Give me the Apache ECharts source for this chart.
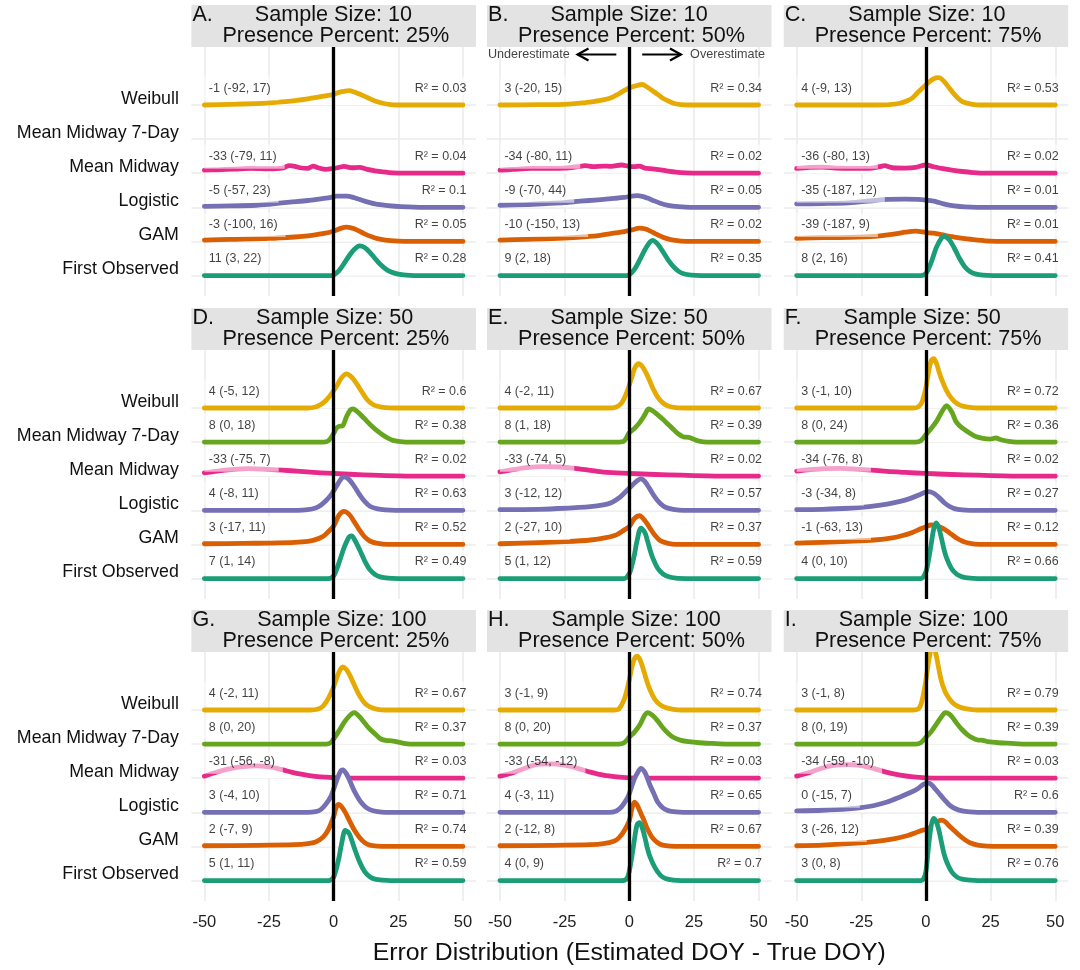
<!DOCTYPE html>
<html>
<head>
<meta charset="utf-8">
<title>Error distributions by method</title>
<script src="https://cdn.jsdelivr.net/npm/echarts@6.0.0/dist/echarts.min.js"></script>
<style>
  html, body { margin: 0; padding: 0; background: #ffffff; }
  #chart { width: 1080px; height: 970px; }
</style>
</head>
<body>
<div id="chart"></div>
<script>
// ---- data ---------------------------------------------------------------
// ridge order, bottom to top
const methods = ['First Observed', 'GAM', 'Logistic', 'Mean Midway', 'Mean Midway 7-Day', 'Weibull'];
const methodColors = ['#1B9E77', '#D95F02', '#7570B3', '#E7298A', '#66A61E', '#E6AB02'];
const panelLetters = ['A', 'B', 'C', 'D', 'E', 'F', 'G', 'H', 'I'];
const sampleSizes = [10, 10, 10, 50, 50, 50, 100, 100, 100];
const presencePercents = ['25%', '50%', '75%', '25%', '50%', '75%', '25%', '50%', '75%'];
const xTicks = [-50, -25, 0, 25, 50];

// median error and 95% range for each method (same order as methods; null = not fitted)
const statsA = [[11, 3, 22], [-3, -100, 16], [-5, -57, 23], [-33, -79, 11], null, [-1, -92, 17]];
const statsB = [[9, 2, 18], [-10, -150, 13], [-9, -70, 44], [-34, -80, 11], null, [3, -20, 15]];
const statsC = [[8, 2, 16], [-39, -187, 9], [-35, -187, 12], [-36, -80, 13], null, [4, -9, 13]];
const statsD = [[7, 1, 14], [3, -17, 11], [4, -8, 11], [-33, -75, 7], [8, 0, 18], [4, -5, 12]];
const statsE = [[5, 1, 12], [2, -27, 10], [3, -12, 12], [-33, -74, 5], [8, 1, 18], [4, -2, 11]];
const statsF = [[4, 0, 10], [-1, -63, 13], [-3, -34, 8], [-34, -76, 8], [8, 0, 24], [3, -1, 10]];
const statsG = [[5, 1, 11], [2, -7, 9], [3, -4, 10], [-31, -56, -8], [8, 0, 20], [4, -2, 11]];
const statsH = [[4, 0, 9], [2, -12, 8], [4, -3, 11], [-33, -54, -12], [8, 0, 20], [3, -1, 9]];
const statsI = [[3, 0, 8], [3, -26, 12], [0, -15, 7], [-34, -59, -10], [8, 0, 19], [3, -1, 8]];

// R squared for each method
const r2A = [0.28, 0.05, 0.1, 0.04, null, 0.03];
const r2B = [0.35, 0.02, 0.05, 0.02, null, 0.34];
const r2C = [0.41, 0.01, 0.01, 0.02, null, 0.53];
const r2D = [0.49, 0.52, 0.63, 0.02, 0.38, 0.6];
const r2E = [0.59, 0.37, 0.57, 0.02, 0.39, 0.67];
const r2F = [0.66, 0.12, 0.27, 0.02, 0.36, 0.72];
const r2G = [0.59, 0.74, 0.71, 0.03, 0.37, 0.67];
const r2H = [0.7, 0.67, 0.65, 0.03, 0.37, 0.74];
const r2I = [0.76, 0.39, 0.6, 0.03, 0.39, 0.79];

// error density curves: [error (days), ridge height in % of the row spacing]
const curvesA = [
  [[-50,0],[-4,0],[-1,0],[0,2],[2,14],[4,35],[6,58],[8,77],[10,87],[12,82],[14,68],[16,50],[18,33],[20,20],[22,11],[25,4],[28,1],[31,0],[50,0]],
  [[-50,4],[-40,6],[-25,9],[-15,13],[-10,16],[-5,22],[0,30],[3,39],[5,42],[8,37],[12,22],[16,10],[20,4],[25,1],[30,0],[50,0]],
  [[-50,3],[-40,4],[-30,6],[-25,9],[-17,15],[-10,20],[-5,25],[-1,29],[1,33],[5,33],[8,28],[12,18],[16,10],[21,5],[26,2],[35,0],[50,0]],
  [[-50,9],[-45,10],[-38,12],[-32,14],[-25,13],[-20,15],[-17,22],[-15,20],[-13,16],[-10,14],[-8,21],[-6,16],[-3,11],[0,14],[2,17],[4,20],[7,16],[10,17],[13,11],[16,7],[19,4],[23,1],[27,0],[50,0]],
  null,
  [[-50,0],[-40,2],[-30,4],[-25,6],[-20,9],[-15,13],[-10,18],[-6,23],[-3,27],[0,31],[2,37],[4,40],[6,42],[8,38],[10,32],[13,22],[16,12],[19,5],[22,1],[25,0],[50,0]]
];
const curvesB = [
  [[-50,0],[-4,0],[-1,0],[0,2],[2,18],[4,45],[6,75],[8,98],[9,103],[11,92],[13,70],[15,46],[17,27],[19,13],[21,5],[24,1],[28,0],[50,0]],
  [[-50,4],[-40,6],[-30,8],[-20,12],[-12,17],[-6,24],[-2,29],[1,34],[4,39],[6,37],[8,31],[10,23],[13,12],[16,5],[20,1],[24,0],[50,0]],
  [[-50,6],[-40,8],[-32,11],[-25,14],[-19,18],[-12,22],[-6,26],[-2,29],[1,33],[3,34],[5,32],[7,27],[9,21],[12,12],[15,6],[19,2],[24,0],[50,0]],
  [[-50,9],[-45,11],[-38,14],[-30,14],[-25,15],[-20,19],[-17,22],[-14,19],[-10,21],[-7,20],[-3,24],[0,20],[2,19],[4,21],[6,15],[9,13],[12,10],[15,6],[18,3],[22,1],[27,0],[50,0]],
  null,
  [[-50,0],[-35,1],[-25,2],[-18,6],[-14,10],[-10,15],[-7,21],[-4,33],[-2,42],[0,50],[3,57],[5,60],[7,52],[9,42],[11,31],[13,20],[15,12],[17,5],[20,1],[23,0],[50,0]]
];
const curvesC = [
  [[-50,0],[-4,0],[-2,0],[0,6],[2,38],[4,82],[6,110],[7,115],[9,105],[11,80],[13,50],[15,26],[17,12],[19,5],[22,1],[26,0],[50,0]],
  [[-50,9],[-40,11],[-30,12],[-20,15],[-12,22],[-8,27],[-4,30],[0,26],[3,24],[6,20],[10,14],[15,8],[20,4],[25,1],[30,0],[50,0]],
  [[-50,10],[-40,11],[-30,13],[-20,20],[-15,23],[-8,24],[-3,23],[0,21],[3,18],[5,14],[8,8],[11,4],[15,1],[20,0],[50,0]],
  [[-50,14],[-45,17],[-40,18],[-35,15],[-28,14],[-22,14],[-18,19],[-16,22],[-13,16],[-8,15],[-4,17],[0,24],[3,19],[6,14],[10,9],[14,5],[18,2],[23,0],[50,0]],
  null,
  [[-50,0],[-20,0],[-14,1],[-10,5],[-7,13],[-5,22],[-3,38],[-1,52],[1,66],[3,77],[5,80],[7,69],[9,50],[11,31],[13,16],[15,7],[18,2],[21,0],[50,0]]
];
const curvesD = [
  [[-50,0],[-5,0],[-2,0],[0,8],[2,45],[4,90],[6,122],[7,125],[8,115],[10,85],[12,52],[14,26],[16,12],[18,5],[21,1],[25,0],[50,0]],
  [[-50,2],[-35,3],[-25,4],[-15,6],[-10,9],[-7,14],[-4,24],[-2,38],[0,54],[2,85],[4,97],[6,88],[8,66],[10,42],[12,22],[14,10],[17,3],[21,0],[50,0]],
  [[-50,0],[-18,0],[-14,0],[-10,2],[-7,7],[-5,15],[-3,28],[-1,45],[1,70],[3,93],[4,98],[6,90],[8,70],[10,46],[12,26],[14,12],[17,4],[20,1],[24,0],[50,0]],
  [[-50,10],[-45,15],[-40,19],[-33,22],[-27,21],[-20,18],[-13,14],[-5,10],[0,8],[8,5],[15,3],[25,1],[35,0],[50,0]],
  [[-50,0],[-7,0],[-4,0],[-2,4],[0,25],[1,40],[2,46],[3.5,48],[5,75],[6.5,95],[7.5,97],[9,90],[11,76],[13,60],[15,45],[17,32],[19,21],[21,12],[23,5],[25,2],[28,0],[50,0]],
  [[-50,0],[-14,0],[-10,0],[-7,3],[-5,10],[-3,22],[-1,40],[1,62],[3,88],[5,100],[7,90],[9,70],[11,46],[13,24],[15,11],[17,5],[20,1],[24,0],[50,0]]
];
const curvesE = [
  [[-50,0],[-5,0],[-2,0],[0,14],[1,38],[2,70],[3,110],[4.5,148],[6,135],[7,112],[8,85],[9,62],[11,30],[13,14],[15,6],[18,1],[22,0],[50,0]],
  [[-50,2],[-35,5],[-25,8],[-15,13],[-9,20],[-5,28],[-2,42],[0,52],[2,76],[4,84],[6,70],[8,48],[10,26],[12,11],[15,3],[18,0],[50,0]],
  [[-50,2],[-35,3],[-25,6],[-15,11],[-10,16],[-7,22],[-4,36],[-2,50],[0,65],[2,80],[4.5,92],[6,85],[8,62],[10,38],[12,20],[14,9],[17,3],[21,0],[50,0]],
  [[-50,13],[-45,19],[-40,25],[-33,28],[-27,27],[-21,23],[-15,17],[-10,12],[-5,10],[0,8],[10,5],[20,3],[30,1],[40,0],[50,0]],
  [[-50,0],[-7,0],[-4,0],[-2,3],[0,27],[2,40],[4,57],[6,80],[7.5,97],[9,92],[11,80],[13,67],[15,52],[17,38],[19,24],[21,15],[23,14],[25,8],[27,3],[30,0],[50,0]],
  [[-50,0],[-12,0],[-8,0],[-5,3],[-3,14],[-1,45],[1,90],[2,115],[3.5,130],[5,122],[7,95],[9,60],[11,32],[13,15],[15,6],[18,1],[22,0],[50,0]]
];
const curvesF = [
  [[-50,0],[-5,0],[-2,0],[0,20],[1,55],[2,100],[3,145],[4,163],[5,148],[6,118],[7,85],[8,60],[10,28],[12,12],[14,5],[17,1],[20,0],[50,0]],
  [[-50,4],[-40,6],[-30,9],[-20,13],[-13,19],[-9,26],[-5,36],[-2,46],[0,52],[2,57],[4,55],[6,49],[8,40],[10,29],[12,18],[14,10],[16,5],[19,1],[23,0],[50,0]],
  [[-50,2],[-40,3],[-30,6],[-22,11],[-15,18],[-10,26],[-6,35],[-3,44],[-1,51],[1,55],[3,50],[5,38],[7,23],[9,12],[11,5],[14,1],[17,0],[50,0]],
  [[-50,15],[-45,19],[-39,22],[-33,23],[-27,21],[-21,18],[-15,14],[-8,11],[0,8],[10,5],[20,3],[30,1],[40,0],[50,0]],
  [[-50,0],[-7,0],[-4,0],[-2,4],[0,22],[2,40],[4,60],[6,87],[8,107],[10,88],[11.5,62],[13,48],[15,36],[17,26],[19,17],[22,11],[25,9],[27,12],[29,7],[32,2],[35,0],[50,0]],
  [[-50,0],[-8,0],[-5,0],[-3,3],[-1.5,18],[0,60],[1,105],[2,138],[3,145],[4,132],[5,108],[6,85],[8,50],[10,27],[12,13],[14,6],[17,2],[20,0],[50,0]]
];
const curvesG = [
  [[-50,0],[-5,0],[-2,0],[0,10],[2,65],[3,105],[4.5,147],[6,138],[7,118],[8,95],[10,55],[12,26],[14,11],[16,4],[19,1],[22,0],[50,0]],
  [[-50,2],[-30,3],[-15,5],[-10,8],[-7,13],[-4,28],[-2,50],[0,88],[1,115],[2,123],[3,117],[4.5,100],[6,77],[8,48],[10,26],[12,11],[14,4],[17,1],[20,0],[50,0]],
  [[-50,0],[-14,0],[-10,0],[-7,2],[-5,8],[-3,24],[-1,48],[1,90],[2.5,118],[3.5,124],[5,112],[6.5,88],[8,62],[10,36],[12,18],[14,8],[17,2],[20,0],[50,0]],
  [[-50,6],[-45,18],[-40,28],[-35,34],[-30,36],[-25,33],[-20,25],[-16,17],[-12,11],[-8,6],[-3,3],[2,1],[8,0],[50,0]],
  [[-50,0],[-6,0],[-3,0],[-1,5],[0,15],[2,38],[4,63],[6,82],[8,92],[10,80],[12,62],[14,44],[16,30],[18,16],[20,11],[23,9],[26,4],[30,0],[50,0]],
  [[-50,0],[-12,0],[-9,0],[-6,3],[-4,12],[-2,35],[0,68],[2,110],[3.5,126],[5,118],[6.5,98],[8,73],[10,42],[12,20],[14,9],[17,2],[20,0],[50,0]]
];
const curvesH = [
  [[-50,0],[-6,0],[-3,0],[-1,5],[0,27],[1,70],[2,120],[3,163],[4,170],[5,155],[6,128],[7,95],[8,70],[10,37],[12,16],[14,6],[17,1],[20,0],[50,0]],
  [[-50,2],[-30,3],[-15,5],[-10,8],[-6,15],[-4,25],[-2,45],[0,75],[1,110],[2,130],[3,122],[4,105],[5.5,80],[7,52],[9,25],[11,11],[13,4],[16,1],[19,0],[50,0]],
  [[-50,0],[-12,0],[-8,0],[-5,4],[-3,16],[-1,38],[0,54],[2,98],[3.5,120],[4.5,129],[6,118],[7,100],[8,80],[9.5,55],[11,30],[13,13],[15,5],[18,1],[21,0],[50,0]],
  [[-50,6],[-45,16],[-40,30],[-35,41],[-30,42],[-25,38],[-20,29],[-15,18],[-10,9],[-5,4],[0,1],[5,0],[50,0]],
  [[-50,0],[-7,0],[-4,0],[-2,4],[0,20],[2,35],[4,55],[6,85],[7,92],[9,84],[11,68],[13,48],[15,32],[17,20],[20,11],[23,7],[27,4],[32,2],[38,0],[50,0]],
  [[-50,0],[-9,0],[-6,0],[-4,3],[-2,30],[-1,55],[0,88],[1,125],[2,150],[3,158],[4,150],[5,130],[6,105],[7,80],[8,60],[10,30],[12,15],[14,7],[17,2],[20,0],[50,0]]
];
const curvesI = [
  [[-50,0],[-5,0],[-2,0],[-1,4],[0,27],[1,100],[2,160],[3,182],[4,172],[5,148],[6,112],[7,78],[8,55],[10,25],[12,10],[14,4],[17,1],[20,0],[50,0]],
  [[-50,2],[-40,4],[-30,8],[-20,14],[-12,23],[-7,32],[-4,40],[-2,46],[0,50],[2,58],[4,70],[6,77],[7.5,72],[9,60],[11,46],[13,32],[15,20],[17,11],[20,4],[24,1],[28,0],[50,0]],
  [[-50,4],[-40,6],[-30,10],[-25,14],[-20,20],[-15,30],[-10,45],[-6,58],[-3,70],[-1,82],[1,86],[2,82],[3,74],[5,56],[7,38],[9,22],[11,12],[14,4],[17,1],[20,0],[50,0]],
  [[-50,6],[-45,17],[-40,30],[-35,38],[-30,40],[-25,37],[-20,28],[-15,17],[-10,9],[-5,4],[0,1],[5,0],[50,0]],
  [[-50,0],[-7,0],[-4,0],[-2,4],[0,20],[2,36],[4,58],[6,80],[7.5,92],[9,88],[10.5,76],[12,60],[14,42],[16,28],[18,18],[20,12],[22,11],[24,7],[28,4],[33,2],[38,0],[50,0]],
  [[-50,0],[-8,0],[-5,0],[-3,3],[-2,15],[-1,45],[0,88],[1,140],[2,180],[2.7,186],[3.5,175],[4.5,140],[5.5,100],[6.5,72],[8,45],[10,24],[12,12],[14,6],[17,2],[20,0],[50,0]]
];

// direction hint drawn in panel B: [arrow tail, arrow head] in days
const hintArrows = [[-5, -20], [5, 20]];
const hintTexts = [['Underestimate', -38.8], ['Overestimate', 38]];

const panelStats = [statsA, statsB, statsC, statsD, statsE, statsF, statsG, statsH, statsI];
const panelR2 = [r2A, r2B, r2C, r2D, r2E, r2F, r2G, r2H, r2I];
const panelCurves = [curvesA, curvesB, curvesC, curvesD, curvesE, curvesF, curvesG, curvesH, curvesI];

// ---- layout ---------------------------------------------------------------
const FONT = '"Liberation Sans", Arial, Helvetica, sans-serif';
const colLeft = [191.4, 487.0, 783.7];
const rowTop = [47, 350, 652];
const gridW = 284.5, gridH = 249, stripH = 42;
const Y_MIN = -0.6, Y_MAX = 6.7;       // ridge baselines sit at 0..5
const HINT_Y = 6.48;                    // height of the direction hint in panel B

const grids = [], xAxes = [], yAxes = [], series = [], graphics = [];

panelCurves.forEach((curves, p) => {
  const r = Math.floor(p / 3), c = p % 3;
  const left = colLeft[c], top = rowTop[r];

  grids.push({ left, top, width: gridW, height: gridH, containLabel: false, outerBoundsMode: 'none' });

  xAxes.push({
    gridIndex: p, type: 'value', min: -55, max: 55, interval: 5,
    axisLine: { show: false, onZero: false }, axisTick: { show: false }, splitLine: { show: false },
    axisLabel: {
      show: r === 2, margin: 13, fontSize: 16.5, fontFamily: FONT, color: '#1f1f1f',
      formatter: v => (xTicks.indexOf(v) >= 0 ? String(v) : '')
    }
  });

  yAxes.push({
    gridIndex: p, type: 'value', min: Y_MIN, max: Y_MAX, interval: 0.1,
    axisLine: { show: false, onZero: false }, axisTick: { show: false }, splitLine: { show: false },
    axisLabel: {
      show: c === 0, margin: 12.5, fontSize: 17.8, fontFamily: FONT, color: '#111111',
      verticalAlign: 'bottom', lineHeight: 12,
      formatter: v => {
        const k = Math.round(v);
        return Math.abs(v - k) < 1e-6 && k >= 0 && k < methods.length ? methods[k] : '';
      }
    }
  });

  // panel grid lines, kept beneath the ridges
  series.push({
    type: 'line', xAxisIndex: p, yAxisIndex: p, data: [], z: 1, silent: true, animation: false,
    markLine: {
      z: 1, silent: true, animation: false, symbol: ['none', 'none'], label: { show: false },
      lineStyle: { color: '#ebebeb', width: 1.6, type: 'solid' },
      emphasis: { disabled: true },
      data: xTicks.filter(v => v !== 0).map(v => ({ xAxis: v }))
        .concat(methods.map((m, k) => ({ yAxis: k })))
    }
  });

  // ridges, top one first so lower ridges overlap it
  for (let k = methods.length - 1; k >= 0; k--) {
    const curve = curves[k];
    if (!curve) continue;
    series.push({
      type: 'line', name: methods[k], xAxisIndex: p, yAxisIndex: p,
      z: 2 + (methods.length - 1 - k), silent: true, animation: false,
      smooth: 0.3, symbol: 'none', showSymbol: false,
      data: curve.map(([x, h]) => [x, k + h / 100]),
      lineStyle: { color: methodColors[k], width: 4.8, cap: 'round', join: 'round' },
      areaStyle: { color: '#ffffff', opacity: 1, origin: k }
    });
  }

  // median (95% range) and R squared for each ridge
  const labelData = [];
  panelStats[p].forEach((s, k) => {
    if (!s) return;
    labelData.push({
      value: [-50, k],
      label: { formatter: s[0] + ' (' + s[1] + ', ' + s[2] + ')', align: 'left', padding: [6, 8, 4, 4.5], offset: [0, -16.5] }
    });
    labelData.push({
      value: [50, k],
      label: { formatter: 'R\u00B2 = ' + panelR2[p][k], align: 'right', padding: [6, 4, 4, 4], offset: [7.5, -16.5] }
    });
  });
  series.push({
    type: 'scatter', xAxisIndex: p, yAxisIndex: p, z: 12, silent: true, animation: false,
    symbolSize: 0.1, itemStyle: { color: 'rgba(0,0,0,0)' },
    label: {
      show: true, position: 'inside', verticalAlign: 'middle',
      fontSize: 12.5, fontFamily: FONT, color: '#111111', lineHeight: 14,
      backgroundColor: 'rgba(255,255,255,0.7)'
    },
    data: labelData
  });

  // zero-error reference line, above everything in the panel
  series.push({
    type: 'line', xAxisIndex: p, yAxisIndex: p, data: [], z: 14, silent: true, animation: false,
    markLine: {
      z: 14, silent: true, animation: false, symbol: ['none', 'none'], label: { show: false },
      lineStyle: { color: '#000000', width: 3.3, type: 'solid' },
      emphasis: { disabled: true },
      data: [{ xAxis: 0 }]
    }
  });

  // facet strip
  graphics.push({
    type: 'rect', silent: true, z: 50,
    shape: { x: left, y: top - stripH, width: gridW, height: stripH },
    style: { fill: '#e3e3e3' }
  });
  graphics.push({
    type: 'text', silent: true, z: 51, x: left + 1, y: top - stripH + 10.5,
    style: {
      text: panelLetters[p] + '.       Sample Size: ' + sampleSizes[p],
      fontSize: 21.6, fontFamily: FONT, fill: '#111111', align: 'left', verticalAlign: 'middle'
    }
  });
  graphics.push({
    type: 'text', silent: true, z: 51, x: left + 31, y: top - stripH + 31.5,
    style: {
      text: 'Presence Percent: ' + presencePercents[p],
      fontSize: 21.6, fontFamily: FONT, fill: '#111111', align: 'left', verticalAlign: 'middle'
    }
  });
});

// direction hint (panel B)
series.push({
  type: 'custom', xAxisIndex: 1, yAxisIndex: 1, z: 15, silent: true, animation: false,
  data: hintArrows.map(([from, to]) => [from, to, HINT_Y]),
  renderItem: (params, api) => {
    const tail = api.coord([api.value(0), api.value(2)]);
    const head = api.coord([api.value(1), api.value(2)]);
    const dir = head[0] > tail[0] ? 1 : -1;
    return {
      type: 'group',
      children: [
        { type: 'line', shape: { x1: tail[0], y1: tail[1], x2: head[0], y2: head[1] },
          style: { stroke: '#000', lineWidth: 2.2 } },
        { type: 'polyline',
          shape: { points: [[head[0] - dir * 11, head[1] - 6], [head[0], head[1]], [head[0] - dir * 11, head[1] + 6]] },
          style: { stroke: '#000', lineWidth: 2.2, fill: null, lineJoin: 'miter' } }
      ]
    };
  }
});
series.push({
  type: 'scatter', xAxisIndex: 1, yAxisIndex: 1, z: 15, silent: true, animation: false,
  symbolSize: 0.1, itemStyle: { color: 'rgba(0,0,0,0)' },
  label: { show: true, position: 'inside', align: 'center', verticalAlign: 'middle', fontSize: 12.6, fontFamily: FONT, color: '#111111' },
  data: hintTexts.map(([t, x]) => ({ value: [x, HINT_Y], label: { formatter: t } }))
});

// shared x axis title
graphics.push({
  type: 'text', silent: true, z: 51, x: colLeft[1] + gridW / 2, y: 953,
  style: {
    text: 'Error Distribution (Estimated DOY - True DOY)',
    fontSize: 24.8, fontFamily: FONT, fill: '#111111', align: 'center', verticalAlign: 'middle'
  }
});

const chart = echarts.init(document.getElementById('chart'), null, { renderer: 'canvas' });
chart.setOption({
  animation: false,
  backgroundColor: '#ffffff',
  textStyle: { fontFamily: FONT },
  grid: grids,
  xAxis: xAxes,
  yAxis: yAxes,
  series: series,
  graphic: { elements: graphics }
});
</script>
</body>
</html>
